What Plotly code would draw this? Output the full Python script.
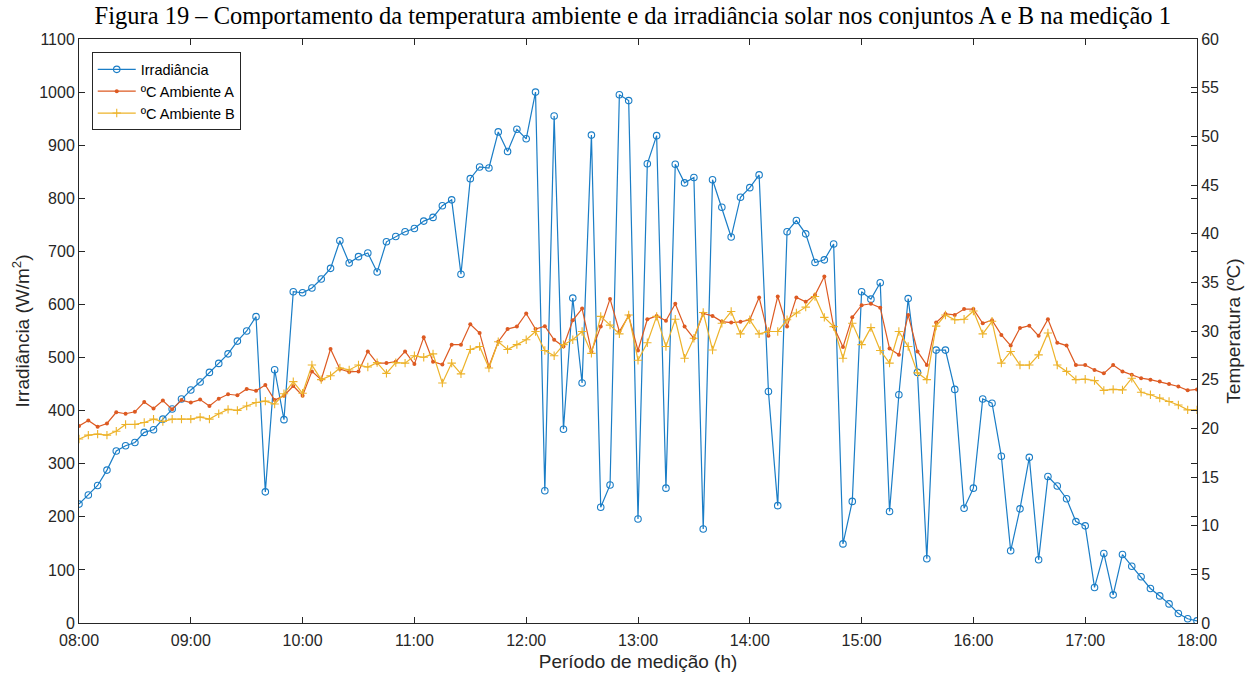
import pandas as pd
import plotly.graph_objects as go

# --- data (5-minute samples from 08:00 to 18:00) ---
times = pd.date_range("2020-01-01 08:00", "2020-01-01 18:00", freq="5min")

irradiancia = [
    224, 241, 259, 288, 324, 334, 340, 359, 364, 384,
    403, 422, 439, 454, 472, 489, 507, 531, 550, 577,
    247, 477, 383, 624, 622, 631, 648, 668, 720, 678,
    690, 697, 661, 718, 728, 737, 743, 757, 764, 786,
    797, 657, 837, 859, 857, 925, 888, 930, 912, 1000,
    249, 955, 365, 612, 452, 919, 218, 260, 995, 984,
    196, 865, 918, 254, 864, 829, 839, 177, 835, 783,
    727, 802, 820, 844, 436, 221, 737, 758, 733, 679,
    684, 714, 149, 229, 624, 610, 641, 210, 430, 611,
    472, 121, 514, 514, 440, 216, 254, 422, 414, 314,
    136, 215, 312, 119, 276, 258, 234, 191, 183, 67,
    131, 53, 129, 107, 87, 65, 51, 36, 18, 8, 4,
]

temp_a = [
    20.25, 20.8, 20.15, 20.5, 21.65, 21.5, 21.7, 22.7, 22.05, 22.85,
    21.95, 22.9, 22.65, 22.95, 22.3, 23.05, 23.5, 23.4, 24.05, 23.85,
    24.45, 22.9, 23.35, 24.35, 23.35, 25.85, 25.0, 28.15, 26.1, 25.8,
    25.85, 27.9, 26.7, 26.7, 26.85, 27.9, 26.6, 29.35, 26.85, 26.55,
    28.6, 28.6, 30.7, 29.8, 26.35, 28.9, 30.2, 30.45, 31.8, 30.2,
    30.5, 29.1, 28.4, 31.1, 32.3, 27.9, 30.45, 33.3, 29.95, 31.55,
    28.0, 31.2, 31.55, 31.05, 32.8, 30.45, 29.25, 31.8, 31.55, 30.97,
    30.87, 30.94, 31.15, 33.45, 29.5, 33.55, 30.45, 33.45, 33.0, 33.7,
    35.6, 30.45, 28.35, 31.4, 32.65, 32.8, 32.4, 28.2, 27.55, 31.65,
    27.9, 26.5, 30.87, 31.75, 31.65, 32.25, 32.25, 30.8, 31.1, 29.6,
    28.5, 30.3, 30.55, 29.5, 31.2, 28.8, 28.5, 26.5, 26.5, 26.0,
    25.65, 26.5, 25.85, 25.5, 25.15, 25.0, 24.8, 24.55, 24.3, 23.9, 24.0,
]

temp_b = [
    18.9, 19.3, 19.4, 19.3, 19.7, 20.4, 20.4, 20.6, 20.95, 20.7,
    20.95, 20.95, 20.95, 21.15, 20.95, 21.5, 21.95, 21.85, 22.3, 22.65,
    22.8, 22.5, 23.55, 24.8, 23.6, 26.5, 25.0, 25.4, 26.2, 26.0,
    26.5, 26.3, 26.75, 25.65, 26.75, 26.7, 27.45, 27.3, 27.65, 24.65,
    26.7, 25.6, 28.1, 28.4, 26.2, 28.9, 28.1, 28.6, 29.1, 29.95,
    28.0, 27.45, 28.6, 29.1, 29.95, 27.7, 31.5, 30.6, 29.7, 31.65,
    27.0, 28.8, 31.5, 28.4, 31.2, 27.2, 29.25, 31.9, 28.05, 30.8,
    32.0, 29.7, 31.15, 29.7, 29.95, 29.95, 31.15, 31.85, 32.45, 33.55,
    31.4, 30.45, 27.2, 30.8, 28.6, 30.35, 28.0, 26.7, 29.95, 28.4,
    25.7, 25.0, 30.5, 31.65, 31.15, 31.2, 32.05, 29.7, 31.0, 26.7,
    27.9, 26.5, 26.5, 27.55, 29.8, 26.5, 25.85, 25.0, 25.05, 24.9,
    23.9, 24.0, 23.95, 25.15, 23.7, 23.45, 23.1, 22.75, 22.4, 21.9, 21.9,
]

x_ticks = pd.date_range("2020-01-01 08:00", "2020-01-01 18:00", freq="1h")
x_ticklabels = [t.strftime("%H:%M") for t in x_ticks]
y_left_ticks = list(range(0, 1101, 100))
y_right_ticks = list(range(0, 61, 5))

BLUE = "#1A7DC6"
ORANGE = "#DD5A22"
YELLOW = "#EDB32A"
AXC = "#262626"
FONT = "Liberation Sans"

fig = go.Figure()
fig.add_trace(go.Scatter(
    x=times, y=irradiancia, name="Irradiância", mode="lines+markers",
    line=dict(color=BLUE, width=1.2),
    marker=dict(symbol="circle-open", size=6.5, color=BLUE, line=dict(width=1.1)),
))
fig.add_trace(go.Scatter(
    x=times, y=temp_a, name="ºC Ambiente A", mode="lines+markers", yaxis="y2",
    line=dict(color=ORANGE, width=1.2),
    marker=dict(symbol="circle", size=4, color=ORANGE),
))
fig.add_trace(go.Scatter(
    x=times, y=temp_b, name="ºC Ambiente B", mode="lines+markers", yaxis="y2",
    line=dict(color=YELLOW, width=1.2),
    marker=dict(symbol="cross-thin-open", size=6, color=YELLOW, line=dict(width=1.1, color=YELLOW)),
))

fig.update_layout(
    width=1258, height=674,
    margin=dict(l=79, r=61, t=39, b=51, autoexpand=False),
    paper_bgcolor="white", plot_bgcolor="white",
    font=dict(family=FONT, size=16, color=AXC),
    title=dict(
        text="Figura 19 – Comportamento da temperatura ambiente e da irradiância solar nos conjuntos A e B na medição 1",
        font=dict(family="Liberation Serif", size=24.5, color="black"),
        x=0.503, xanchor="center", xref="container",
        y=0.9777, yanchor="middle", yref="container",
    ),
    showlegend=True,
    legend=dict(
        x=0.0114, y=0.977, xanchor="left", yanchor="top",
        bgcolor="white", bordercolor=AXC, borderwidth=1,
        font=dict(family=FONT, size=14.5, color="black"),
        tracegroupgap=0, itemwidth=38,
    ),
    xaxis=dict(
        range=[times[0], times[-1]],
        tickvals=x_ticks, ticktext=x_ticklabels,
        ticks="inside", ticklen=6, tickcolor=AXC,
        showline=True, linecolor=AXC, linewidth=1, mirror="ticks",
        showgrid=False, zeroline=False, automargin=False,
        tickfont=dict(size=16, color=AXC), ticklabelstandoff=3,
        title=dict(text="Período de medição (h)", font=dict(size=19, color=AXC), standoff=6),
    ),
    yaxis=dict(
        range=[0, 1100], tickvals=y_left_ticks,
        ticks="inside", ticklen=6, tickcolor=AXC,
        showline=True, linecolor=AXC, linewidth=1, mirror="ticks",
        showgrid=False, zeroline=False, automargin=False,
        tickfont=dict(size=16, color=AXC),
        title=dict(text="Irradiância (W/m<sup>2</sup>)", font=dict(size=19, color=AXC), standoff=4),
    ),
    yaxis2=dict(
        range=[0, 60], tickvals=y_right_ticks, overlaying="y", side="right",
        ticks="inside", ticklen=6, tickcolor=AXC,
        showline=True, linecolor=AXC, linewidth=1,
        showgrid=False, zeroline=False, automargin=False,
        tickfont=dict(size=16, color=AXC),
        title=dict(text="Temperatura (ºC)", font=dict(size=19, color=AXC), standoff=8),
    ),
)

fig.write_html("out.html")
